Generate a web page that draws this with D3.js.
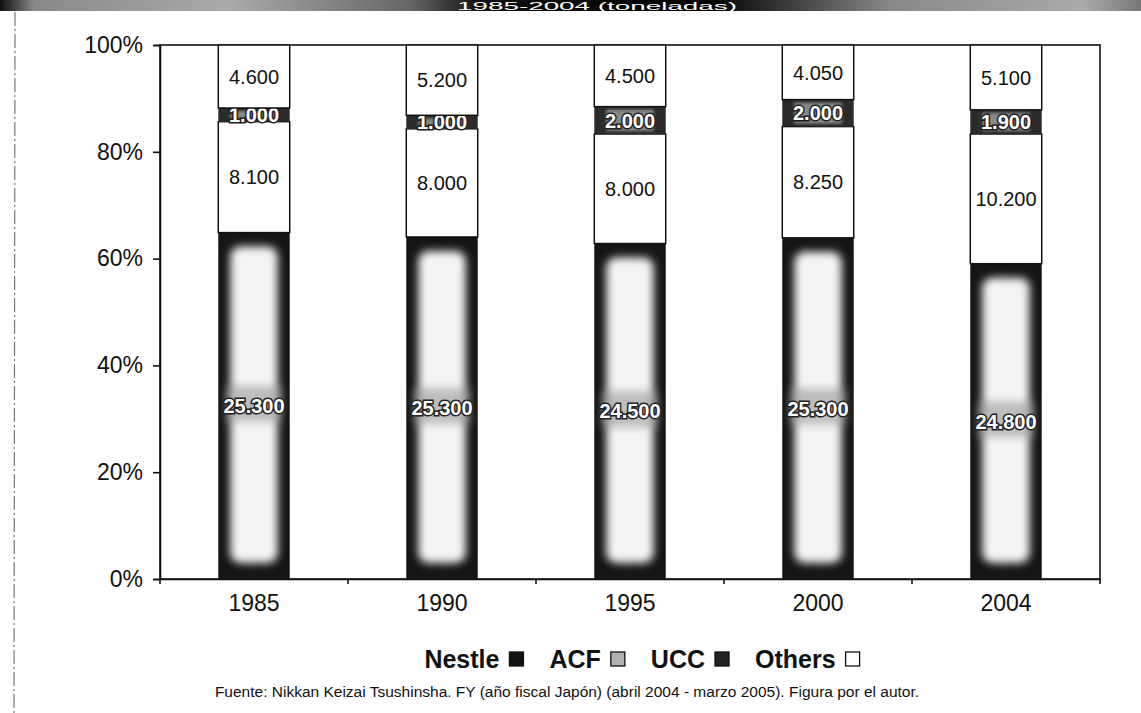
<!DOCTYPE html>
<html>
<head>
<meta charset="utf-8">
<script src="https://cdn.jsdelivr.net/npm/d3@7"></script>
<style>
  body { margin: 0; background: #fff; }
  svg { display: block; font-family: "Liberation Sans", Arial, sans-serif; }
</style>
</head>
<body>
<script>
// data (tons)
var years = ['1985', '1990', '1995', '2000', '2004'];
var keys = ['Nestle', 'ACF', 'UCC', 'Others'];
var nestle = [25300, 25300, 24500, 25300, 24800];
var acf = [8100, 8000, 8000, 8250, 10200];
var ucc = [1000, 1000, 2000, 2000, 1900];
var others = [4600, 5200, 4500, 4050, 5100];
var yTicks = [0, 0.2, 0.4, 0.6, 0.8, 1];
var title = '1985-2004 (toneladas)';
var source = 'Fuente: Nikkan Keizai Tsushinsha. FY (año fiscal Japón) (abril 2004 - marzo 2005). Figura por el autor.';

var rows = years.map(function(y, i) {
	return { year: y, Nestle: nestle[i], ACF: acf[i], UCC: ucc[i], Others: others[i] };
});

var width = 1141,
	height = 713;

var margin = { left: 160, right: 41, top: 45, bottom: 134 };

var svg = d3.select('body')
	.append('svg')
	.attr('width', width)
	.attr('height', height);

var defs = svg.append('defs');

// scanned title bar gradient
var tg = defs.append('linearGradient').attr('id', 'titlebar');
[[0, '#111'], [0.03, '#888'], [0.2, '#aaa'], [0.36, '#666'], [0.42, '#111'], [0.62, '#000'], [0.68, '#333'], [0.78, '#888'], [0.95, '#aaa'], [1, '#777']]
	.forEach(function(s) {
		tg.append('stop').attr('offset', s[0]).attr('stop-color', s[1]);
	});

defs.append('filter').attr('id', 'blur')
	.attr('x', '-20%').attr('y', '-20%').attr('width', '140%').attr('height', '140%')
	.append('feGaussianBlur').attr('stdDeviation', 4);

defs.append('filter').attr('id', 'blur2')
	.append('feGaussianBlur').attr('stdDeviation', 1.5);

// title bar (the scan shows only the bottom of it)
svg.append('rect')
	.attr('x', 0).attr('y', 0)
	.attr('width', width).attr('height', 11)
	.attr('fill', 'url(#titlebar)');

svg.append('text')
	.attr('x', 597).attr('y', 9.5)
	.attr('text-anchor', 'middle')
	.attr('fill', '#fff')
	.attr('textLength', 280)
	.attr('lengthAdjust', 'spacingAndGlyphs')
	.style('font-size', '11px')
	.text(title);

// dotted scan border on the left
svg.append('line')
	.attr('x1', 15).attr('x2', 14)
	.attr('y1', 12).attr('y2', height)
	.attr('stroke', '#777')
	.attr('stroke-width', 1.2)
	.attr('stroke-dasharray', '14 3 2 3');

var x = d3.scaleBand()
	.domain(years)
	.range([margin.left, width - margin.right])
	.paddingInner(0.62)
	.paddingOuter(0.31);

var y = d3.scaleLinear()
	.domain([0, 1])
	.range([height - margin.bottom, margin.top]);

var stack = d3.stack()
	.keys(keys)
	.offset(d3.stackOffsetExpand);

var series = stack(rows);

var fmt = d3.formatLocale({ decimal: ',', thousands: '.', grouping: [3], currency: ['', ''] }).format(',');

// plot frame
svg.append('rect')
	.attr('x', margin.left).attr('y', margin.top)
	.attr('width', width - margin.right - margin.left)
	.attr('height', y(0) - margin.top)
	.attr('fill', 'none')
	.attr('stroke', '#111')
	.attr('stroke-width', 1.6);

var layers = svg.append('g').selectAll('g')
	.data(series)
	.enter().append('g')
	.attr('class', function(d) { return 'layer ' + d.key; });

layers.each(function(s) {
	var g = d3.select(this);
	var seg = g.selectAll('g')
		.data(s)
		.enter().append('g');

	seg.each(function(d) {
		var cell = d3.select(this);
		var x0 = x(d.data.year),
			w = x.bandwidth(),
			y0 = y(d[1]),
			h = y(d[0]) - y(d[1]);

		if (s.key === 'Nestle') {
			cell.append('rect')
				.attr('x', x0).attr('y', y0).attr('width', w).attr('height', h)
				.attr('fill', '#151515');
			cell.append('rect')
				.attr('x', x0 + 12).attr('y', y0 + 14).attr('width', w - 24).attr('height', h - 30)
				.attr('rx', 10)
				.attr('fill', '#f4f4f4')
				.attr('filter', 'url(#blur)');
			cell.append('rect')
				.attr('x', x0 + 8).attr('y', y0 + h / 2 - 20).attr('width', w - 16).attr('height', 36)
				.attr('fill', '#999')
				.attr('opacity', 0.6)
				.attr('filter', 'url(#blur)');
		} else if (s.key === 'UCC') {
			cell.append('rect')
				.attr('x', x0).attr('y', y0).attr('width', w).attr('height', h)
				.attr('fill', '#2b2b2b');
			cell.append('rect')
				.attr('x', x0 + 12).attr('y', y0 + 3).attr('width', w - 24).attr('height', Math.max(h - 6, 2))
				.attr('fill', '#888')
				.attr('filter', 'url(#blur2)');
		} else {
			cell.append('rect')
				.attr('x', x0).attr('y', y0).attr('width', w).attr('height', h)
				.attr('fill', '#fff')
				.attr('stroke', '#111')
				.attr('stroke-width', 1.5);
		}

		var light = s.key === 'Nestle' || s.key === 'UCC';
		cell.append('text')
			.attr('x', x0 + w / 2)
			.attr('y', y0 + h / 2)
			.attr('dy', '0.36em')
			.attr('text-anchor', 'middle')
			.style('font-size', '20px')
			.style('font-weight', light ? 'bold' : 'normal')
			.style('paint-order', 'stroke')
			.attr('fill', light ? '#fff' : '#111')
			.attr('stroke', light ? '#222' : 'none')
			.attr('stroke-width', light ? 3 : 0)
			.text(fmt(d.data[s.key]));
	});
});

// y axis
var yAxis = svg.append('g')
	.attr('transform', 'translate(' + margin.left + ',0)')
	.call(d3.axisLeft(y).tickValues(yTicks).tickFormat(d3.format('.0%')).tickSize(7).tickPadding(10));

yAxis.select('.domain').attr('stroke', '#111').attr('stroke-width', 1.6);
yAxis.selectAll('line').attr('stroke', '#111').attr('stroke-width', 1.6);
yAxis.selectAll('text')
	.attr('fill', '#111')
	.style('font-size', '23px')
	.style('font-family', '"Liberation Sans", Arial, sans-serif');

// x axis
var xAxis = svg.append('g')
	.attr('transform', 'translate(0,' + y(0) + ')')
	.call(d3.axisBottom(x).tickSize(0).tickPadding(16));

xAxis.select('.domain').attr('stroke', '#111').attr('stroke-width', 1.6);
xAxis.selectAll('text')
	.attr('fill', '#111')
	.style('font-size', '23px')
	.style('font-family', '"Liberation Sans", Arial, sans-serif');

// small category separator ticks
xAxis.selectAll('.sep')
	.data(d3.range(years.length + 1))
	.enter().append('line')
	.attr('class', 'sep')
	.attr('x1', function(i) { return margin.left + i * x.step(); })
	.attr('x2', function(i) { return margin.left + i * x.step(); })
	.attr('y1', 0).attr('y2', 5)
	.attr('stroke', '#111')
	.attr('stroke-width', 1.6);

// legend
var fills = { Nestle: '#111', ACF: '#b0b0b0', UCC: '#222', Others: '#fff' };
var legend = svg.append('g');
var cx = 0;

legend.selectAll('g')
	.data(keys)
	.enter().append('g')
	.each(function(k) {
		var it = d3.select(this);
		var t = it.append('text')
			.attr('x', 0).attr('y', 0)
			.attr('fill', '#111')
			.style('font-size', '25px')
			.style('font-weight', 'bold')
			.text(k);
		var tw = t.node().getComputedTextLength();
		it.append('rect')
			.attr('x', tw + 10).attr('y', -16)
			.attr('width', 14).attr('height', 14)
			.attr('fill', fills[k])
			.attr('stroke', '#111')
			.attr('stroke-width', 1.3);
		it.attr('transform', 'translate(' + cx + ',0)');
		cx += tw + 24 + 26;
	});

legend.attr('transform', 'translate(' + (642 - (cx - 26) / 2) + ',668)');

// source note
svg.append('text')
	.attr('x', 567).attr('y', 697)
	.attr('text-anchor', 'middle')
	.attr('fill', '#111')
	.style('font-size', '15.5px')
	.text(source);
</script>
</body>
</html>
